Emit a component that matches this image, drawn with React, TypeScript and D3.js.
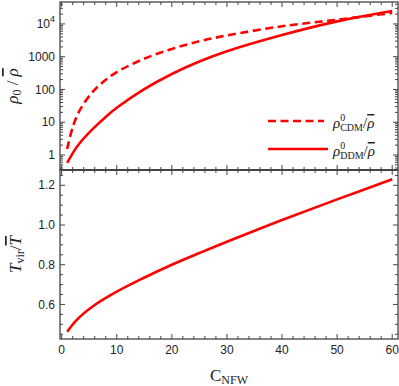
import React from "react";
import * as d3 from "d3";

// concentration values
const cTop = [1, 2.1, 3.4, 5.75, 7.9, 10, 14.85, 20, 25.1, 30, 40, 50, 60];
const rhoDDM = [0.57, 1.2, 2.44, 6.5, 14, 27.5, 99, 297, 725, 1470, 4600, 12000, 25000];
const rhoCDM = [1.52, 7.9, 25, 89, 190, 340, 850, 1730, 2980, 4460, 8500, 13500, 21700];

const cBottom = [1, 2.7, 5.75, 10, 14.85, 20, 25.1, 30, 40, 50, 60];
const tVir = [0.462, 0.521, 0.592, 0.664, 0.733, 0.8, 0.86, 0.916, 1.025, 1.129, 1.23];

const xTicks = [0, 10, 20, 30, 40, 50, 60];
const logTicks = [1, 10, 100, 1000, 10000];
const tTicks = [0.6, 0.8, 1.0, 1.2];

const W = 399;
const H = 386;
const frame = "#444";
const red = "#ff0000";

const App = () => {
  const left = 60;
  const right = 398;
  const topY0 = 2;
  const midY = 170;
  const botY1 = 339;

  const x = d3.scaleLinear().domain([-0.3, 61.05]).range([left, right]);
  const yTop = d3.scaleLog().domain([0.348, 46800]).range([midY, topY0]);
  const yBot = d3.scaleLinear().domain([0.426, 1.277]).range([botY1, midY]);

  const lineTop = (vals: number[]) =>
    d3
      .line<number>()
      .x((_, i) => x(cTop[i]))
      .y((d) => yTop(d))
      .curve(d3.curveCatmullRom.alpha(0.5))(vals) || "";
  const lineBot =
    d3
      .line<number>()
      .x((_, i) => x(cBottom[i]))
      .y((d) => yBot(d))
      .curve(d3.curveCatmullRom.alpha(0.5))(tVir) || "";

  const xMinor = d3.range(0, 61, 2).filter((v) => v % 10 !== 0);
  const logMinor: number[] = [];
  for (let e = -1; e <= 4; e++) {
    for (let k = 2; k <= 9; k++) {
      const v = k * Math.pow(10, e);
      if (v > 0.348 && v < 46800) logMinor.push(v);
    }
  }
  const tMinor = d3.range(0.45, 1.276, 0.05).filter(
    (v) => !tTicks.some((t) => Math.abs(t - v) < 1e-6)
  );

  const tickFont = { fontFamily: "Liberation Sans, Arial, sans-serif", fontSize: 12, fill: "#222" };
  const serif = "Liberation Serif, Times New Roman, serif";

  const vTick = (xx: number, y: number, len: number, key: string) => (
    <line key={key} x1={xx} x2={xx} y1={y} y2={y + len} stroke={frame} strokeWidth={1} />
  );
  const hTick = (xx: number, y: number, len: number, key: string) => (
    <line key={key} x1={xx} x2={xx + len} y1={y} y2={y} stroke={frame} strokeWidth={1} />
  );

  const panelTicks = (y0: number, y1: number, p: string) => (
    <g>
      {xTicks.map((v) => vTick(x(v), y0, 5, `${p}tM${v}`))}
      {xMinor.map((v) => vTick(x(v), y0, 3, `${p}tm${v}`))}
      {xTicks.map((v) => vTick(x(v), y1, -5, `${p}bM${v}`))}
      {xMinor.map((v) => vTick(x(v), y1, -3, `${p}bm${v}`))}
    </g>
  );

  return (
    <svg width={W} height={H} style={{ position: "absolute", left: 0, top: 0 }}>
      <rect width={W} height={H} fill="#fff" />

      {/* top panel */}
      <defs>
        <clipPath id="clipTop">
          <rect x={left} y={topY0} width={right - left} height={midY - topY0} />
        </clipPath>
      </defs>
      <g clipPath="url(#clipTop)">
        <path d={lineTop(rhoCDM)} fill="none" stroke={red} strokeWidth={2.6} strokeDasharray="8,4.5" />
        <path d={lineTop(rhoDDM)} fill="none" stroke={red} strokeWidth={2.6} />
      </g>
      {panelTicks(topY0, midY, "a")}
      {logTicks.map((v) => (
        <g key={`lt${v}`}>
          {hTick(left, yTop(v), 5, `l${v}`)}
          {hTick(right, yTop(v), -5, `r${v}`)}
        </g>
      ))}
      {logMinor.map((v) => (
        <g key={`lm${v}`}>
          {hTick(left, yTop(v), 3, `l${v}`)}
          {hTick(right, yTop(v), -3, `r${v}`)}
        </g>
      ))}
      {logTicks.map((v) => (
        <text key={`ll${v}`} x={left - 5} y={yTop(v)} dy="0.35em" textAnchor="end" {...tickFont}>
          {v === 10000 ? (
            <>
              10<tspan dy="-6" fontSize={9}>4</tspan>
            </>
          ) : (
            String(v)
          )}
        </text>
      ))}

      {/* legend */}
      <line x1={268} x2={324} y1={121} y2={121} stroke={red} strokeWidth={2.6} strokeDasharray="8,4.5" />
      <line x1={268} x2={328} y1={149} y2={149} stroke={red} strokeWidth={2.6} />
      <text x={333} y={128} fontFamily={serif} fontSize={15} fill="#222">
        <tspan fontStyle="italic">ρ</tspan>
        <tspan fontSize={10} dy="-7">0</tspan>
        <tspan fontSize={10} dx="-5" dy="10">CDM</tspan>
        <tspan dy="-3">/</tspan>
        <tspan fontStyle="italic" style={{ textDecoration: "overline" }}>ρ</tspan>
      </text>
      <text x={333} y={156} fontFamily={serif} fontSize={15} fill="#222">
        <tspan fontStyle="italic">ρ</tspan>
        <tspan fontSize={10} dy="-7">0</tspan>
        <tspan fontSize={10} dx="-5" dy="10">DDM</tspan>
        <tspan dy="-3">/</tspan>
        <tspan fontStyle="italic" style={{ textDecoration: "overline" }}>ρ</tspan>
      </text>

      {/* bottom panel */}
      <path d={lineBot} fill="none" stroke={red} strokeWidth={2.6} />
      {panelTicks(midY, botY1, "b")}
      {tTicks.map((v) => (
        <g key={`tt${v}`}>
          {hTick(left, yBot(v), 5, `l${v}`)}
          {hTick(right, yBot(v), -5, `r${v}`)}
          <text x={left - 5} y={yBot(v)} dy="0.35em" textAnchor="end" {...tickFont}>
            {v.toFixed(1)}
          </text>
        </g>
      ))}
      {tMinor.map((v) => (
        <g key={`tm${v}`}>
          {hTick(left, yBot(v), 3, `l${v}`)}
          {hTick(right, yBot(v), -3, `r${v}`)}
        </g>
      ))}
      {xTicks.map((v) => (
        <text key={`xl${v}`} x={x(v)} y={botY1 + 15} textAnchor="middle" {...tickFont}>
          {v}
        </text>
      ))}

      {/* frames */}
      <rect x={left} y={topY0} width={right - left} height={midY - topY0} fill="none" stroke={frame} strokeWidth={1.3} />
      <rect x={left} y={midY} width={right - left} height={botY1 - midY} fill="none" stroke={frame} strokeWidth={1.3} />
      <line x1={left} x2={right} y1={midY} y2={midY} stroke={frame} strokeWidth={2.2} />

      {/* axis labels */}
      <text
        transform={`translate(18, ${(topY0 + midY) / 2}) rotate(-90)`}
        textAnchor="middle"
        fontFamily={serif}
        fontSize={17}
        fill="#222"
      >
        <tspan fontStyle="italic">ρ</tspan>
        <tspan fontSize={12} dy="3">0</tspan>
        <tspan dy="-3"> / </tspan>
        <tspan fontStyle="italic" style={{ textDecoration: "overline" }}>ρ</tspan>
      </text>
      <text
        transform={`translate(21, ${(midY + botY1) / 2}) rotate(-90)`}
        textAnchor="middle"
        fontFamily={serif}
        fontSize={17}
        fill="#222"
      >
        <tspan fontStyle="italic">T</tspan>
        <tspan fontSize={12} dy="3">vir</tspan>
        <tspan dy="-3">/</tspan>
        <tspan fontStyle="italic" style={{ textDecoration: "overline" }}>T</tspan>
      </text>
      <text x={229} y={381} textAnchor="middle" fontFamily={serif} fontSize={17} fill="#222">
        C<tspan fontSize={12} dy="3">NFW</tspan>
      </text>
    </svg>
  );
};

export default App;
